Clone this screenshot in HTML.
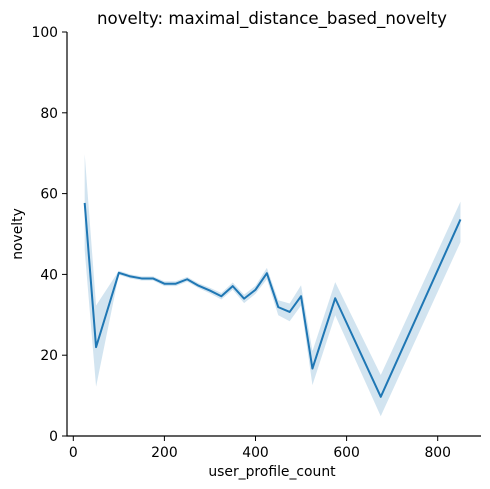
<!DOCTYPE html>
<html><head><meta charset="utf-8"><style>
body{margin:0;background:#fff;}
svg{display:block;font-family:"DejaVu Sans","Liberation Sans",sans-serif;}
</style></head><body>
<svg id="chart" width="490" height="489" viewBox="0 0 490 489">
<text x="272" y="24" font-size="16.6" text-anchor="middle">novelty: maximal_distance_based_novelty</text>
<text x="272" y="476" font-size="13.9" text-anchor="middle">user_profile_count</text>
<text transform="translate(22,234) rotate(-90)" font-size="13.9" text-anchor="middle">novelty</text>
<g id="plot"></g>
</svg>
<script>
const xs=[25,50,100,125,150,175,200,225,250,275,300,325,350,375,400,425,450,475,500,525,575,675,850];
const ys=[57.7,22.0,40.4,39.5,39.0,39.0,37.7,37.7,38.8,37.2,36.0,34.6,37.1,34.0,36.2,40.3,31.9,30.7,34.6,16.7,34.1,9.7,53.6];
const upper=[69.8,32.3,40.9,40.0,39.5,39.5,38.3,38.3,39.4,37.8,36.7,35.4,38.0,35.0,37.2,41.6,33.6,32.8,37.3,21.0,38.1,15.1,58.0];
const lower=[46.0,12.2,39.9,39.0,38.5,38.5,37.1,37.1,38.2,36.6,35.3,33.8,36.2,32.9,35.2,38.8,29.9,28.4,32.3,12.6,29.9,4.9,48.0];
const xTicks=[0,200,400,600,800];
const yTicks=[0,20,40,60,80,100];
const NS="http://www.w3.org/2000/svg";
const X=v=>73.3+v*0.4555;
const Y=v=>436-v*4.04;
const g=document.getElementById('plot');
function mk(t,a){const e=document.createElementNS(NS,t);for(const k in a)e.setAttribute(k,a[k]);g.appendChild(e);return e;}
let d='M'+xs.map((x,i)=>X(x)+','+Y(upper[i])).join('L');
for(let i=xs.length-1;i>=0;i--)d+='L'+X(xs[i])+','+Y(lower[i]);
const band=mk('path',{d:d+'Z',fill:'#1f77b4','fill-opacity':0.2,stroke:'none'});


const line=mk('path',{d:'M'+xs.map((x,i)=>X(x)+','+Y(ys[i])).join('L'),fill:'none',stroke:'#1f77b4','stroke-width':2,'stroke-linejoin':'round'});


const ax=mk('path',{d:'M67,32V436H481',fill:'none',stroke:'#000','stroke-width':1.2});


xTicks.forEach(v=>{
 mk('line',{x1:X(v),x2:X(v),y1:436,y2:441,stroke:'#000'});
 const t=mk('text',{x:X(v),y:457,'font-size':13.9,'text-anchor':'middle'});t.textContent=v;
 
 
});
yTicks.forEach(v=>{
 mk('line',{x1:62,x2:67,y1:Y(v),y2:Y(v),stroke:'#000'});
 const t=mk('text',{x:58,y:Y(v)+5,'font-size':13.9,'text-anchor':'end'});t.textContent=v;
 
 
});
</script>
</body></html>
